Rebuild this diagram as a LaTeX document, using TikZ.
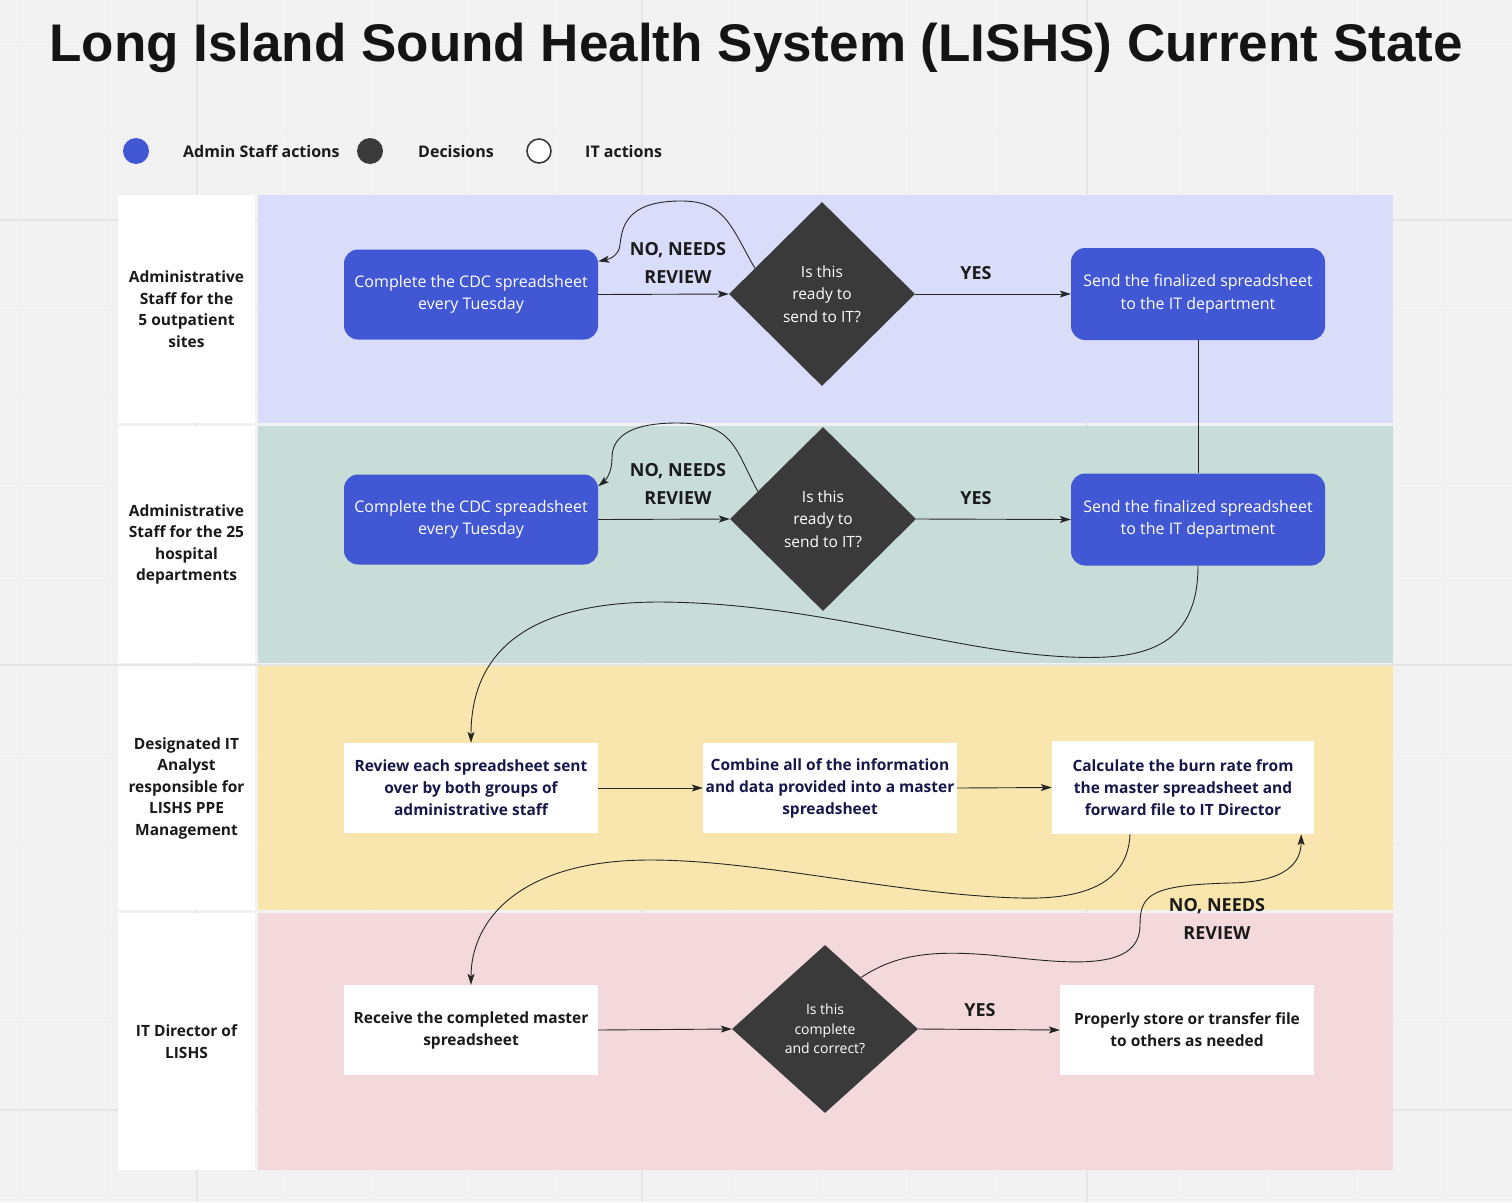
\documentclass[tikz,border=0pt]{standalone}
\usepackage{fontspec}
\setmainfont{Open Sans}
\newfontfamily\titlefont{Liberation Sans}
\usetikzlibrary{shapes.geometric,arrows.meta}
\definecolor{bgcol}{HTML}{F2F2F2}
\definecolor{gridminor}{HTML}{EDEDED}
\definecolor{gridmajor}{HTML}{E5E5E5}
\definecolor{adminblue}{HTML}{4157D3}
\definecolor{decgray}{HTML}{3A3A3A}
\definecolor{laneA}{HTML}{DADDFA}
\definecolor{laneB}{HTML}{C8DDD8}
\definecolor{laneC}{HTML}{F8E6AE}
\definecolor{laneD}{HTML}{F3D9DB}
\definecolor{navytext}{HTML}{17174A}
\definecolor{inktext}{HTML}{1A1A1A}
\tikzset{
  lanebg/.style={rectangle, draw=none, inner sep=0pt, minimum width=1135pt},
  lanelabel/.style={rectangle, fill=white, draw=none, inner sep=0pt, minimum width=137pt,
    align=center, text=inktext, font=\fontsize{15.5}{21.5}\selectfont\bfseries},
  bluebox/.style={rectangle, rounded corners=14pt, fill=adminblue, text=white, draw=none,
    align=center, inner sep=0pt, minimum width=254pt, minimum height=90pt,
    font=\fontsize{16}{22.5}\selectfont},
  itbox/.style={rectangle, fill=white, draw=none, align=center, inner sep=0pt,
    minimum width=254pt, minimum height=90pt, text=navytext,
    font=\fontsize{15.5}{22}\selectfont\bfseries},
  decision/.style={diamond, fill=decgray, text=white, draw=none, align=center, inner sep=0pt,
    minimum width=186pt, minimum height=184pt, font=\fontsize{15.5}{22.5}\selectfont},
  flowlabel/.style={text=inktext, align=center, inner sep=0pt,
    font=\fontsize{18}{28}\selectfont\bfseries},
  legtext/.style={text=inktext, anchor=west, inner sep=0pt, font=\fontsize{16}{20}\selectfont\bfseries},
  legdot/.style={circle, inner sep=0pt, minimum size=26pt},
  flow/.style={draw=black!85, line width=0.9pt, -{Stealth[length=11pt,width=7pt,inset=2.5pt]}},
  plainflow/.style={draw=black!85, line width=0.9pt},
}
\begin{document}
\begin{tikzpicture}[x=1pt,y=-1pt]
\useasboundingbox (0,0) rectangle (1512,1202);
\fill[bgcol] (0,0) rectangle (1512,1202);
% faint grid
\foreach \gx in {19,108,...,1512} \draw[gridminor, line width=0.8pt] (\gx,0) -- (\gx,1202);
\foreach \gy in {42,131,...,1202} \draw[gridminor, line width=0.8pt] (0,\gy) -- (1512,\gy);
\foreach \gx in {197,642,1087} \draw[gridmajor, line width=1.2pt] (\gx,0) -- (\gx,1202);
\foreach \gy in {220,665,1110} \draw[gridmajor, line width=1.2pt] (0,\gy) -- (1512,\gy);

% title
\node[inner sep=0pt, text=black!92, font=\fontsize{53}{56}\titlefont\bfseries] (title) at (756,48)
  {Long Island Sound Health System (LISHS) Current State};

% legend
\node[legdot, fill=adminblue] (ldot1) at (136,151) {};
\node[legtext] (ltext1) at (183,151) {Admin Staff actions};
\node[legdot, fill=decgray] (ldot2) at (370,151) {};
\node[legtext] (ltext2) at (418,151) {Decisions};
\node[legdot, fill=white, draw=decgray, line width=1.6pt, minimum size=24pt] (ldot3) at (539,151) {};
\node[legtext] (ltext3) at (585,151) {IT actions};

% lanes
\node[lanebg, fill=laneA, minimum height=228pt] (lane1) at (825.5,309) {};
\node[lanebg, fill=laneB, minimum height=237pt] (lane2) at (825.5,544.5) {};
\node[lanebg, fill=laneC, minimum height=244pt] (lane3) at (825.5,788) {};
\node[lanebg, fill=laneD, minimum height=257pt] (lane4) at (825.5,1041.5) {};

\node[lanelabel, minimum height=228pt] (lab1) at (186.5,309)
  {Administrative\\Staff for the\\5 outpatient\\sites};
\node[lanelabel, minimum height=237pt] (lab2) at (186.5,544.5)
  {Administrative\\Staff for the 25\\hospital\\departments};
\node[lanelabel, minimum height=244pt] (lab3) at (186.5,788)
  {Designated IT\\Analyst\\responsible for\\LISHS PPE\\Management};
\node[lanelabel, minimum height=257pt] (lab4) at (186.5,1041.5)
  {IT Director of\\LISHS};

% lane 1
\node[bluebox] (a1) at (471,294.5) {Complete the CDC spreadsheet\\every Tuesday};
\node[decision] (d1) at (822,294) {Is this\\ready to\\send to IT?};
\node[bluebox, minimum height=92pt] (s1) at (1198,294) {Send the finalized spreadsheet\\to the IT department};
\node[flowlabel] (no1) at (678,263) {NO, NEEDS\\REVIEW};
\node[flowlabel] (yes1) at (976,273) {YES};

% lane 2
\node[bluebox] (a2) at (471,519.5) {Complete the CDC spreadsheet\\every Tuesday};
\node[decision] (d2) at (823,519) {Is this\\ready to\\send to IT?};
\node[bluebox, minimum height=92pt] (s2) at (1198,519.5) {Send the finalized spreadsheet\\to the IT department};
\node[flowlabel] (no2) at (678,484) {NO, NEEDS\\REVIEW};
\node[flowlabel] (yes2) at (976,498) {YES};

% lane 3
\node[itbox] (r1) at (471,788) {Review each spreadsheet sent\\over by both groups of\\administrative staff};
\node[itbox] (c1) at (830,788) {Combine all of the information\\and data provided into a master\\spreadsheet};
\node[itbox, minimum width=262pt, minimum height=93pt] (k1) at (1183,787.5) {Calculate the burn rate from\\the master spreadsheet and\\forward file to IT Director};

% lane 4
\node[itbox, text=inktext] (m1) at (471,1030) {Receive the completed master\\spreadsheet};
\node[decision, minimum height=168pt, font=\fontsize{14}{19.5}\selectfont] (d3) at (825,1029) {Is this\\complete\\and correct?};
\node[itbox, text=inktext] (p1) at (1187,1030) {Properly store or transfer file\\to others as needed};
\node[flowlabel] (no3) at (1217,919) {NO, NEEDS\\REVIEW};
\node[flowlabel] (yes3) at (980,1010) {YES};

% connectors lane 1
\draw[flow] (a1.east) -- (d1.west);
\draw[flow] (d1.east) -- (s1.west);
\draw[flow] (d1.159) .. controls (730,225) and (725,200) .. (678,201)
  .. controls (628,202) and (622,225) .. (620,245)
  .. controls (619,255) and (610,259) .. ([yshift=-12pt]a1.north east);
\draw[plainflow] (s1.south) -- (s2.north);

% connectors lane 2
\draw[flow] (a2.east) -- (d2.west);
\draw[flow] (d2.east) -- (s2.west);
\draw[flow] (d2.157) .. controls (735,450) and (735,423) .. (677,423)
  .. controls (625,423) and (612,440) .. (612,458)
  .. controls (612,472) and (606,480) .. ([yshift=-12pt]a2.north east);
\draw[flow] (s2.south) .. controls (1198,650) and (1140,660) .. (1070,657)
  .. controls (950,652) and (820,603) .. (660,602)
  .. controls (530,602) and (471,650) .. (r1.north);

% connectors lane 3
\draw[flow] (r1.east) -- (c1.west);
\draw[flow] (c1.east) -- (k1.west);
\draw[flow] ([xshift=-53pt]k1.south) .. controls (1128,880) and (1090,900) .. (1020,898)
  .. controls (900,895) and (760,860) .. (650,860)
  .. controls (520,860) and (471,920) .. (m1.north);

% connectors lane 4
\draw[flow] (m1.east) -- (d3.west);
\draw[flow] (d3.east) -- (p1.west);
\draw[flow] (d3.55) .. controls (895,955) and (930,950) .. (990,955)
  .. controls (1060,962) and (1140,975) .. (1140,925)
  .. controls (1140,895) and (1150,885) .. (1230,883)
  .. controls (1290,882) and (1301,860) .. ([xshift=-13pt]k1.south east);
\end{tikzpicture}
\end{document}
